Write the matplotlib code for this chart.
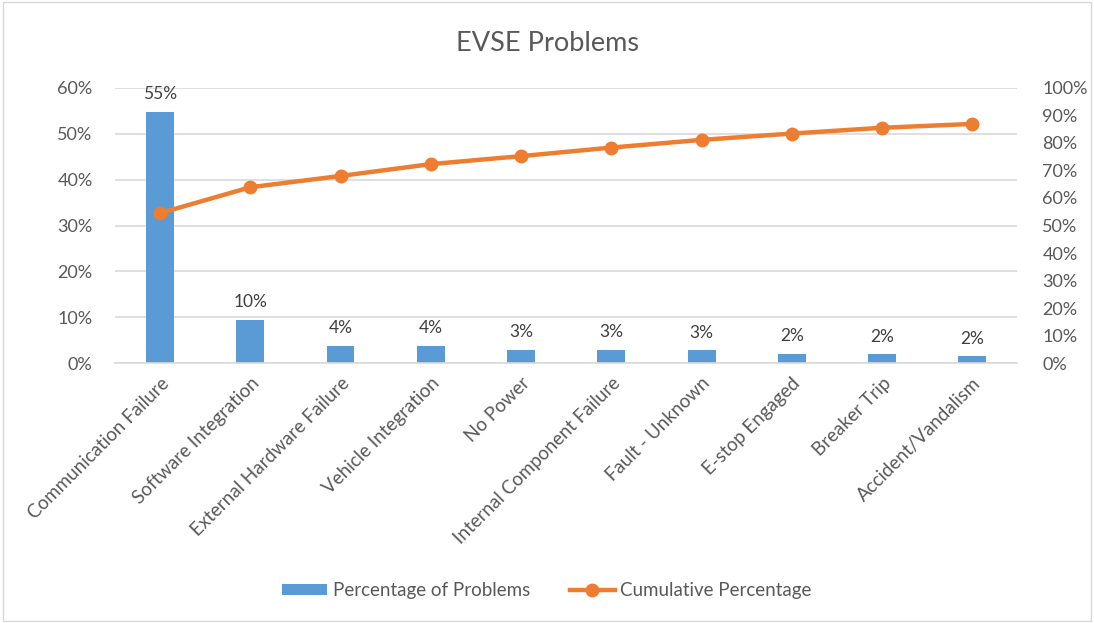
import matplotlib.pyplot as plt
from matplotlib.patches import Rectangle
from matplotlib.ticker import PercentFormatter, MultipleLocator

categories = ['Communication Failure', 'Software Integration', 'External Hardware Failure',
              'Vehicle Integration', 'No Power', 'Internal Component Failure',
              'Fault - Unknown', 'E-stop Engaged', 'Breaker Trip', 'Accident/Vandalism']
pct_problems = [54.8, 9.5, 3.8, 3.8, 2.9, 2.9, 2.8, 2.1, 1.9, 1.5]
bar_labels = ['55%', '10%', '4%', '4%', '3%', '3%', '3%', '2%', '2%', '2%']
cumulative = [54.5, 63.9, 68.0, 72.3, 75.2, 78.3, 81.1, 83.4, 85.5, 86.9]

plt.rcParams['font.family'] = ['Lato', 'DejaVu Sans']
blue = '#5b9bd5'
orange = '#ed7d31'
grey = '#595959'

fig = plt.figure(figsize=(10.94, 6.23), dpi=100)
ax = fig.add_axes([0.105, 0.417, 0.825, 0.442])
x = range(len(categories))

ax.bar(x, pct_problems, width=0.31, color=blue, zorder=2, label='Percentage of Problems')
for xi, v, lab in zip(x, pct_problems, bar_labels):
    ax.annotate(lab, (xi, v), xytext=(0, 7), textcoords='offset points',
                ha='center', va='bottom', fontsize=12.5, color='#404040')

ax.set_xlim(-0.5, len(categories) - 0.5)
ax.set_ylim(0, 60)
ax.yaxis.set_major_locator(MultipleLocator(10))
ax.yaxis.set_major_formatter(PercentFormatter(decimals=0))
ax.grid(axis='y', color='#d9d9d9', linewidth=1.2, zorder=0)
ax.set_axisbelow(True)
for s in ['top', 'right', 'left']:
    ax.spines[s].set_visible(False)
ax.spines['bottom'].set_color('#d9d9d9')
ax.spines['bottom'].set_linewidth(1.2)
ax.tick_params(axis='y', length=0, labelsize=13, colors=grey, pad=16)
ax.tick_params(axis='x', length=0, labelsize=13.5, colors=grey, pad=8)
ax.set_xticks(list(x))
ax.set_xticklabels(categories, rotation=45, ha='right', rotation_mode='anchor')

ax2 = ax.twinx()
ax2.plot(x, cumulative, color=orange, linewidth=3.2, marker='o', markersize=9,
         zorder=3, label='Cumulative Percentage')
ax2.set_ylim(0, 100)
ax2.yaxis.set_major_locator(MultipleLocator(10))
ax2.yaxis.set_major_formatter(PercentFormatter(decimals=0))
for s in ['top', 'right', 'left', 'bottom']:
    ax2.spines[s].set_visible(False)
ax2.tick_params(axis='y', length=0, labelsize=13, colors=grey, pad=18)

fig.suptitle('EVSE Problems', y=0.95, fontsize=19.5, color=grey)

h1, l1 = ax.get_legend_handles_labels()
h2, l2 = ax2.get_legend_handles_labels()
fig.legend(h1 + h2, l1 + l2, loc='center', bbox_to_anchor=(0.5, 0.052), ncol=2,
           frameon=False, fontsize=13.5, labelcolor=grey, handlelength=2.4,
           handleheight=0.5, handletextpad=0.3, columnspacing=2.1)

fig.patches.append(Rectangle((0.003, 0.004), 0.994, 0.992, transform=fig.transFigure,
                             fill=False, edgecolor='#d9d9d9', linewidth=1))

fig.savefig('out.png', dpi=100)
